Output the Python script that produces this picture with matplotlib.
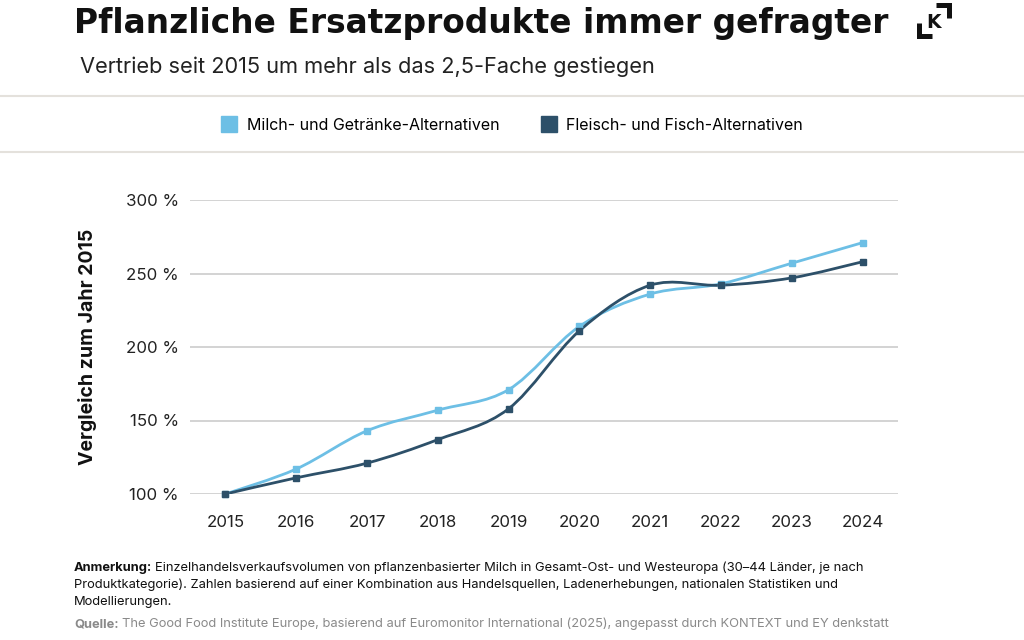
import matplotlib.pyplot as plt
from matplotlib.path import Path
from matplotlib.patches import PathPatch
from matplotlib.lines import Line2D
import numpy as np

years = [2015, 2016, 2017, 2018, 2019, 2020, 2021, 2022, 2023, 2024]
milch = [100, 117, 143, 157, 171, 214, 236, 243, 257, 271]
fleisch = [100, 111, 121, 137, 158, 211, 242, 242, 247, 258]
labels = ["Milch- und Getränke-Alternativen", "Fleisch- und Fisch-Alternativen"]
yticks = [100, 150, 200, 250, 300]

light = '#6dbfe5'
dark = '#2d5069'
W, H = 1024, 640


def fx(px):
    return px / W


def fy(py):
    return 1 - py / H


def smooth_path(x, y):
    # Excel-style smoothed line: Catmull-Rom segments as cubic Bezier curves
    pts = np.column_stack([x, y]).astype(float)
    ext = np.vstack([pts[0], pts, pts[-1]])
    verts = [pts[0]]
    codes = [Path.MOVETO]
    for i in range(len(pts) - 1):
        p0, p1, p2, p3 = ext[i], ext[i + 1], ext[i + 2], ext[i + 3]
        c1 = p1 + (p2 - p0) / 6
        c2 = p2 - (p3 - p1) / 6
        verts += [c1, c2, p2]
        codes += [Path.CURVE4] * 3
    return Path(verts, codes)


fig = plt.figure(figsize=(10.24, 6.4), dpi=100)
fig.patch.set_facecolor('white')

# title, subtitle
fig.text(fx(74), fy(23), "Pflanzliche Ersatzprodukte immer gefragter",
         fontsize=23.7, fontweight='heavy', family='DejaVu Sans', va='center', ha='left', color='#111111')
fig.text(fx(80), fy(67), "Vertrieb seit 2015 um mehr als das 2,5-Fache gestiegen",
         fontsize=15.7, family='Inter', va='center', ha='left', color='#222222')

# logo
lk = dict(color='#111111', lw=3.6, solid_capstyle='butt', solid_joinstyle='miter')
fig.add_artist(Line2D([fx(936), fx(949), fx(949)], [fy(5), fy(5), fy(18)], **lk))
fig.add_artist(Line2D([fx(919), fx(919), fx(932)], [fy(23), fy(36), fy(36)], **lk))
fig.text(fx(934), fy(23), "K", fontsize=13.5, fontweight='heavy', family='DejaVu Sans',
         ha='center', va='center', color='#111111')

# separator lines
for yy in (96, 152):
    fig.add_artist(Line2D([0, 1], [fy(yy), fy(yy)], color='#e4e1dc', lw=1.5))

# axes
ax = fig.add_axes([fx(190), fy(494), fx(898) - fx(190), (494 - 200) / H])
ax.set_xlim(2014.5, 2024.5)
ax.set_ylim(100, 300)
for s in ax.spines.values():
    s.set_visible(False)
ax.set_yticks(yticks)
ax.set_yticklabels([f"{v} %" for v in yticks])
ax.set_xticks(years)
ax.tick_params(length=0, labelsize=12.2, labelcolor='#222222')
ax.tick_params(axis='y', pad=8)
ax.tick_params(axis='x', pad=15)
for lab in ax.get_xticklabels() + ax.get_yticklabels():
    lab.set_family('Inter')
ax.grid(axis='y', color='#cccccc', lw=1.2)
ax.set_axisbelow(True)
ax.set_ylabel("Vergleich zum Jahr 2015", fontsize=14, fontweight='bold',
              family='Inter', color='#111111', labelpad=21)

for vals, col in ((milch, light), (fleisch, dark)):
    ax.add_patch(PathPatch(smooth_path(years, vals), fill=False, edgecolor=col, lw=2, zorder=3))
    ax.plot(years, vals, linestyle='none', marker='s', markersize=5, color=col, zorder=4, clip_on=False)

# legend
handles = [Line2D([], [], linestyle='none', marker='s', markersize=11, color=c) for c in (light, dark)]
fig.legend(handles, labels, loc='center', bbox_to_anchor=(0.5, fy(125)), ncol=2, frameon=False,
           prop={'family': 'Inter', 'size': 11.5}, handletextpad=0.6, columnspacing=2.6,
           handlelength=1.0)

# footer
r = fig.canvas.get_renderer()
note = dict(fontsize=9.3, family='Inter', va='center', ha='left')
t = fig.text(fx(74), fy(568), "Anmerkung:", fontweight='bold', color='#111111', **note)
w = t.get_window_extent(r).width
fig.text(fx(74) + (w + 3) / W, fy(568),
         "Einzelhandelsverkaufsvolumen von pflanzenbasierter Milch in Gesamt-Ost- und Westeuropa (30–44 Länder, je nach",
         color='#111111', **note)
fig.text(fx(74), fy(585),
         "Produktkategorie). Zahlen basierend auf einer Kombination aus Handelsquellen, Ladenerhebungen, nationalen Statistiken und",
         color='#111111', **note)
fig.text(fx(74), fy(602), "Modellierungen.", color='#111111', **note)
t = fig.text(fx(74), fy(624), "Quelle:", fontweight='bold', color='#8a8a8a', **note)
w = t.get_window_extent(r).width
fig.text(fx(74) + (w + 3) / W, fy(624),
         "The Good Food Institute Europe, basierend auf Euromonitor International (2025), angepasst durch KONTEXT und EY denkstatt",
         color='#8a8a8a', **note)

fig.savefig('out.png', dpi=100)
